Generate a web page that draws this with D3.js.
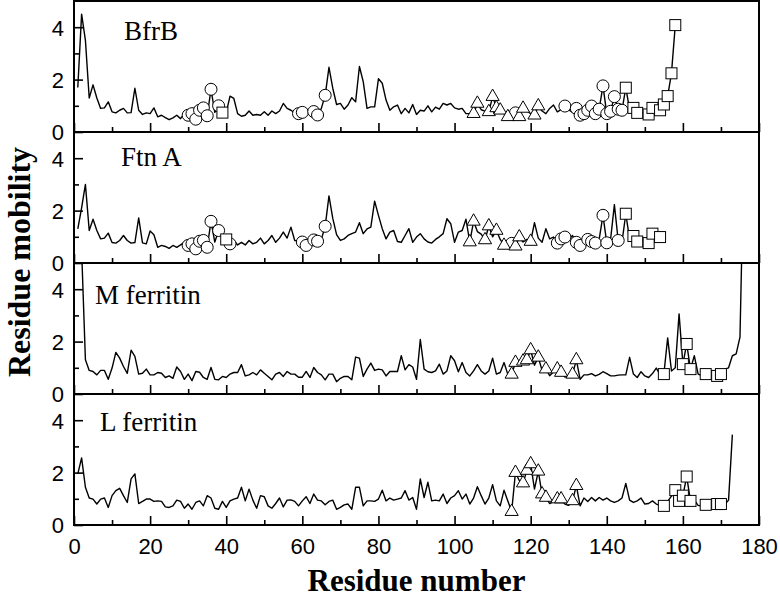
<!DOCTYPE html>
<html>
<head>
<meta charset="utf-8">
<script src="https://cdn.jsdelivr.net/npm/d3@7"></script>
<style>
  body { margin: 0; background: #fff; }
  svg { display: block; }
  .tick text { font-family: "Liberation Sans", Arial, sans-serif; font-size: 22px; fill: #000; }
  .tick line { stroke: #000; stroke-width: 1.6; }
</style>
</head>
<body>
<svg id="chart"></svg>
<script>
// residue mobility, one value per residue starting at residue 1
var bfrbValues = [1.7, 4.5, 3.5, 1.3, 1.8, 1.3, 0.9, 0.92, 1.15, 0.77,
  0.73, 0.83, 0.9, 0.73, 0.74, 1.67, 0.83, 0.67, 0.73, 0.7,
  0.92, 0.58, 0.64, 0.55, 0.47, 0.54, 0.64, 0.51, 0.7, 0.64,
  0.7, 0.49, 0.83, 0.92, 0.62, 1.63, 0.75, 1.0, 0.74, 0.74,
  1.37, 1.28, 0.7, 0.6, 0.64, 0.8, 0.64, 0.67, 0.64, 0.77,
  0.64, 0.8, 0.7, 0.8, 1.09, 0.9, 0.83, 0.73, 0.7, 0.75,
  0.8, 0.78, 0.78, 0.65, 0.9, 1.4, 2.47, 1.67, 1.05, 1.09,
  0.87, 1.03, 1.31, 1.15, 2.5, 1.92, 0.9, 0.96, 0.96, 2.03,
  1.86, 1.22, 0.83, 0.96, 1.03, 0.7, 0.9, 0.73, 1.05, 0.67,
  0.83, 0.8, 1.0, 0.77, 0.95, 0.87, 1.09, 1.03, 1.09, 0.92,
  0.87, 0.9, 0.7, 0.7, 0.7, 1.09, 0.85, 0.8, 0.77, 1.35,
  0.92, 0.83, 0.7, 0.58, 0.8, 0.73, 0.58, 0.9, 0.8, 0.7,
  0.64, 0.99, 0.8, 0.7, 0.9, 1.03, 0.77, 0.85, 0.99, 0.85,
  0.75, 0.9, 0.64, 0.7, 0.83, 0.99, 0.7, 0.87, 1.76, 0.7,
  0.79, 1.35, 0.87, 0.83, 1.69, 0.85, 0.92, 0.73, 0.75, 0.7,
  0.67, 0.92, 0.8, 0.83, 1.05, 1.37, 2.24, 4.08];

var ftnAValues = [1.3, 2.1, 3.0, 1.24, 1.67, 1.24, 0.92, 0.95, 1.14, 0.78,
  0.76, 0.86, 1.05, 0.86, 0.76, 0.78, 1.72, 0.77, 0.73, 1.22,
  1.08, 0.6, 0.67, 0.63, 0.56, 0.67, 0.6, 0.69, 0.79, 0.67,
  0.73, 0.54, 0.83, 0.86, 0.6, 1.59, 0.8, 1.24, 1.0, 0.9,
  0.73, 0.86, 0.69, 0.79, 0.69, 0.86, 0.73, 0.79, 0.95, 0.73,
  0.86, 1.05, 0.79, 0.95, 1.18, 0.95, 1.37, 0.86, 0.85, 0.8,
  0.67, 0.8, 0.88, 0.83, 0.9, 1.4, 2.56, 1.7, 1.08, 0.86,
  0.92, 1.05, 1.12, 1.18, 1.54, 1.12, 1.3, 1.37, 2.36, 1.82,
  1.31, 0.92, 1.18, 1.24, 0.82, 0.79, 1.05, 1.31, 0.79, 0.99,
  1.12, 0.92, 0.8, 0.76, 0.9, 1.0, 1.12, 1.69, 1.5, 0.79,
  1.18, 1.24, 1.67, 0.8, 1.59, 1.2, 1.1, 0.88, 1.41, 1.0,
  1.24, 0.9, 0.67, 0.85, 0.75, 0.64, 0.99, 0.8, 0.9, 0.82,
  1.54, 0.95, 0.79, 1.31, 0.92, 0.99, 0.76, 0.92, 0.99, 0.9,
  1.05, 0.79, 0.67, 0.8, 0.9, 0.82, 0.76, 0.9, 1.82, 0.77,
  0.9, 2.23, 0.86, 0.8, 1.88, 0.9, 1.03, 0.82, 0.9, 0.85,
  0.76, 1.12, 0.9, 0.99];

var mFerritinValues = [10, 5.5, 1.31, 0.9, 0.86, 0.73, 0.9, 0.9, 0.56, 0.99,
  1.59, 1.37, 1.05, 0.79, 1.67, 1.44, 0.76, 0.79, 0.95, 0.73,
  0.73, 0.82, 0.79, 0.63, 0.69, 0.6, 1.03, 0.86, 0.56, 0.76,
  0.51, 0.86, 0.83, 0.63, 0.56, 1.01, 0.56, 0.54, 0.67, 0.63,
  0.76, 0.82, 0.82, 1.12, 0.69, 0.73, 0.82, 0.73, 0.92, 0.79,
  0.67, 0.54, 0.76, 0.82, 0.67, 0.86, 0.76, 0.76, 0.64, 0.64,
  0.86, 0.63, 1.01, 0.82, 0.73, 0.54, 0.76, 0.76, 0.47, 0.6,
  0.67, 0.67, 0.54, 1.41, 1.37, 0.67, 0.95, 1.18, 0.9, 0.95,
  0.92, 0.69, 0.86, 0.86, 0.86, 1.46, 0.92, 1.12, 1.03, 0.56,
  2.08, 0.95, 0.85, 0.82, 0.88, 1.14, 0.76, 0.88, 1.46, 1.27,
  0.85, 1.2, 0.82, 0.69, 0.88, 1.12, 0.88, 0.76, 0.88, 1.37,
  0.76, 0.82, 1.2, 0.75, 0.75, 1.2, 1.1, 1.25, 1.3, 1.68,
  1.1, 1.4, 0.9, 0.95, 0.7, 0.85, 0.95, 0.82, 0.65, 0.7,
  0.75, 1.3, 0.56, 0.73, 0.73, 0.78, 0.69, 0.75, 0.85, 0.78,
  0.69, 0.69, 0.72, 0.73, 0.73, 1.4, 0.76, 0.63, 0.85, 0.69,
  0.63, 0.78, 0.99, 0.75, 0.76, 2.14, 0.88, 1.0, 3.06, 1.14,
  1.91, 0.95, 1.46, 0.76, 0.7, 0.76, 0.7, 0.68, 0.69, 0.76,
  0.95, 1.0, 1.46, 1.53, 2.17, 9];

var lFerritinValues = [1.95, 2.56, 1.44, 1.03, 0.99, 0.8, 0.99, 1.03, 0.67, 1.12,
  1.31, 1.4, 1.12, 0.86, 1.76, 1.95, 0.82, 0.9, 0.99, 0.99,
  0.9, 0.92, 0.9, 0.69, 0.67, 0.73, 0.95, 0.9, 0.64, 0.8,
  0.6, 0.86, 0.92, 0.73, 1.12, 1.03, 0.64, 0.6, 0.9, 0.67,
  0.92, 0.99, 1.03, 1.44, 0.92, 1.37, 0.95, 0.64, 1.12, 1.08,
  0.73, 0.64, 0.82, 1.03, 0.69, 0.95, 0.96, 0.9, 0.73, 0.92,
  1.08, 0.82, 1.18, 0.95, 0.92, 0.77, 0.9, 0.95, 0.6, 0.67,
  0.77, 0.8, 0.6, 1.44, 1.44, 0.73, 0.92, 0.92, 0.9, 0.99,
  1.33, 0.92, 1.03, 0.95, 0.99, 1.03, 1.31, 0.95, 1.05, 0.6,
  1.76, 1.05, 1.63, 0.92, 0.95, 0.92, 1.18, 0.82, 1.03, 1.12,
  1.31, 0.99, 1.18, 0.8, 1.03, 1.46, 1.12, 0.8, 1.03, 1.54,
  0.92, 0.73, 1.33, 0.92, 0.51, 2.0, 1.7, 1.6, 2.08, 2.33,
  1.37, 2.05, 1.18, 1.05, 0.82, 0.9, 0.99, 0.99, 0.8, 0.75,
  0.92, 1.5, 0.73, 1.03, 0.9, 1.05, 0.92, 1.05, 0.95, 1.03,
  0.92, 0.86, 0.92, 1.03, 1.59, 0.95, 0.86, 0.92, 1.03, 0.8,
  0.82, 0.92, 0.8, 0.75, 0.73, 0.9, 1.1, 1.33, 0.92, 1.12,
  1.85, 0.92, 0.95, 0.75, 0.72, 0.77, 0.75, 0.78, 0.8, 0.8,
  0.78, 0.95, 3.45];

// residues highlighted with symbols
var bfrbCircles = [30, 31, 32, 33, 34, 35, 36, 38, 59, 60, 63, 64, 66, 116, 129, 132, 133, 134, 135, 136, 137, 138, 139, 140, 141, 142, 143, 144];
var bfrbTriangles = [105, 106, 109, 110, 111, 112, 114, 117, 118, 121, 122];
var bfrbSquares = [39, 145, 147, 148, 151, 152, 154, 155, 156, 157, 158];

var ftnACircles = [30, 31, 32, 33, 34, 35, 36, 38, 41, 60, 61, 63, 64, 66, 115, 127, 128, 129, 132, 133, 135, 136, 137, 139, 140, 143];
var ftnATriangles = [104, 105, 108, 109, 111, 113, 116, 117, 120];
var ftnASquares = [40, 145, 147, 148, 151, 152, 154];

var mFerritinCircles = [];
var mFerritinTriangles = [115, 116, 118, 119, 120, 122, 124, 127, 128, 131, 132];
var mFerritinSquares = [155, 160, 161, 162, 166, 169, 170];

var lFerritinCircles = [];
var lFerritinTriangles = [115, 116, 118, 119, 120, 122, 123, 124, 127, 128, 131, 132];
var lFerritinSquares = [155, 158, 159, 160, 161, 162, 166, 169, 170];

var panelNames = ["BfrB", "Ftn A", "M ferritin", "L ferritin"];
var xMajorTicks = [0, 20, 40, 60, 80, 100, 120, 140, 160, 180];
var xMinorTicks = [10, 30, 50, 70, 90, 110, 130, 150, 170];
var yMajorTicks = [0, 2, 4];
var yMinorTicks = [1, 3];

var panels = [
  { name: panelNames[0], values: bfrbValues, circles: bfrbCircles, triangles: bfrbTriangles, squares: bfrbSquares, lx: 124, ly: 40 },
  { name: panelNames[1], values: ftnAValues, circles: ftnACircles, triangles: ftnATriangles, squares: ftnASquares, lx: 121, ly: 166 },
  { name: panelNames[2], values: mFerritinValues, circles: mFerritinCircles, triangles: mFerritinTriangles, squares: mFerritinSquares, lx: 95, ly: 304 },
  { name: panelNames[3], values: lFerritinValues, circles: lFerritinCircles, triangles: lFerritinTriangles, squares: lFerritinSquares, lx: 100, ly: 431 }
];

var width = 780, height = 601;
var margins = { left: 74, right: 21, top: 1 };
var panelHeight = 131;

var svg = d3.select("svg#chart").attr("width", width).attr("height", height);

var xScale = d3.scaleLinear().domain([0, 180]).range([margins.left, width - margins.right]);

panels.forEach(function (p, i) {
  var top = margins.top + i * panelHeight;
  var yScale = d3.scaleLinear().domain([0, 5]).range([top + panelHeight, top]);
  var g = svg.append("g").attr("class", "panel");

  g.append("clipPath").attr("id", "clip" + i)
    .append("rect")
    .attr("x", xScale(0)).attr("y", top)
    .attr("width", xScale(180) - xScale(0)).attr("height", panelHeight);

  var pts = p.values.map(function (v, j) { return { res: j + 1, v: v }; });
  var byRes = function (r) { return pts[r - 1]; };

  var line = d3.line().x(d => xScale(d.res)).y(d => yScale(d.v));
  var plot = g.append("g").attr("clip-path", "url(#clip" + i + ")");
  plot.append("path")
    .attr("d", line(pts))
    .attr("fill", "none")
    .attr("stroke", "#000")
    .attr("stroke-width", 1.4)
    .attr("stroke-linejoin", "round");

  plot.selectAll("circle.mk")
    .data(p.circles.map(byRes))
    .join("circle")
    .attr("class", "mk")
    .attr("cx", d => xScale(d.res))
    .attr("cy", d => yScale(d.v))
    .attr("r", 6)
    .attr("fill", "#fff")
    .attr("stroke", "#000")
    .attr("stroke-width", 1);

  plot.selectAll("path.tri")
    .data(p.triangles.map(byRes))
    .join("path")
    .attr("class", "tri")
    .attr("transform", d => `translate(${xScale(d.res)},${yScale(d.v)})`)
    .attr("d", d3.symbol().type(d3.symbolTriangle).size(75))
    .attr("fill", "#fff")
    .attr("stroke", "#000")
    .attr("stroke-width", 1);

  plot.selectAll("rect.sq")
    .data(p.squares.map(byRes))
    .join("rect")
    .attr("class", "sq")
    .attr("x", d => xScale(d.res) - 5.5)
    .attr("y", d => yScale(d.v) - 5.5)
    .attr("width", 11)
    .attr("height", 11)
    .attr("fill", "#fff")
    .attr("stroke", "#000")
    .attr("stroke-width", 1);

  // inward ticks on the bottom edge
  var xAxis = g.append("g").attr("transform", `translate(0,${top + panelHeight})`)
    .call(d3.axisBottom(xScale).tickValues(xMajorTicks).tickSize(-9).tickFormat(i === panels.length - 1 ? d3.format("d") : ""));
  xAxis.select(".domain").remove();
  xAxis.selectAll("text").attr("y", 13);
  g.append("g").attr("transform", `translate(0,${top + panelHeight})`)
    .call(d3.axisBottom(xScale).tickValues(xMinorTicks).tickSize(-5).tickFormat(""))
    .select(".domain").remove();

  var yAxis = g.append("g").attr("transform", `translate(${margins.left},0)`)
    .call(d3.axisLeft(yScale).tickValues(yMajorTicks).tickSize(-9).tickFormat(d3.format("d")));
  yAxis.select(".domain").remove();
  yAxis.selectAll("text").attr("x", -10).attr("dy", "0.36em");
  g.append("g").attr("transform", `translate(${margins.left},0)`)
    .call(d3.axisLeft(yScale).tickValues(yMinorTicks).tickSize(-5).tickFormat(""))
    .select(".domain").remove();

  g.append("rect")
    .attr("x", xScale(0)).attr("y", top)
    .attr("width", xScale(180) - xScale(0)).attr("height", panelHeight)
    .attr("fill", "none")
    .attr("stroke", "#000")
    .attr("stroke-width", 2);

  g.append("text")
    .attr("x", p.lx).attr("y", p.ly)
    .style("font-family", "'Liberation Serif', 'Times New Roman', serif")
    .style("font-size", "27px")
    .text(p.name);
});

svg.append("text")
  .attr("x", (xScale(0) + xScale(180)) / 2)
  .attr("y", 591)
  .attr("text-anchor", "middle")
  .style("font-family", "'Liberation Serif', 'Times New Roman', serif")
  .style("font-weight", "bold")
  .style("font-size", "31px")
  .text("Residue number");

svg.append("text")
  .attr("transform", "translate(30,262) rotate(-90)")
  .attr("text-anchor", "middle")
  .style("font-family", "'Liberation Serif', 'Times New Roman', serif")
  .style("font-weight", "bold")
  .style("font-size", "32px")
  .text("Residue mobility");
</script>
</body>
</html>
